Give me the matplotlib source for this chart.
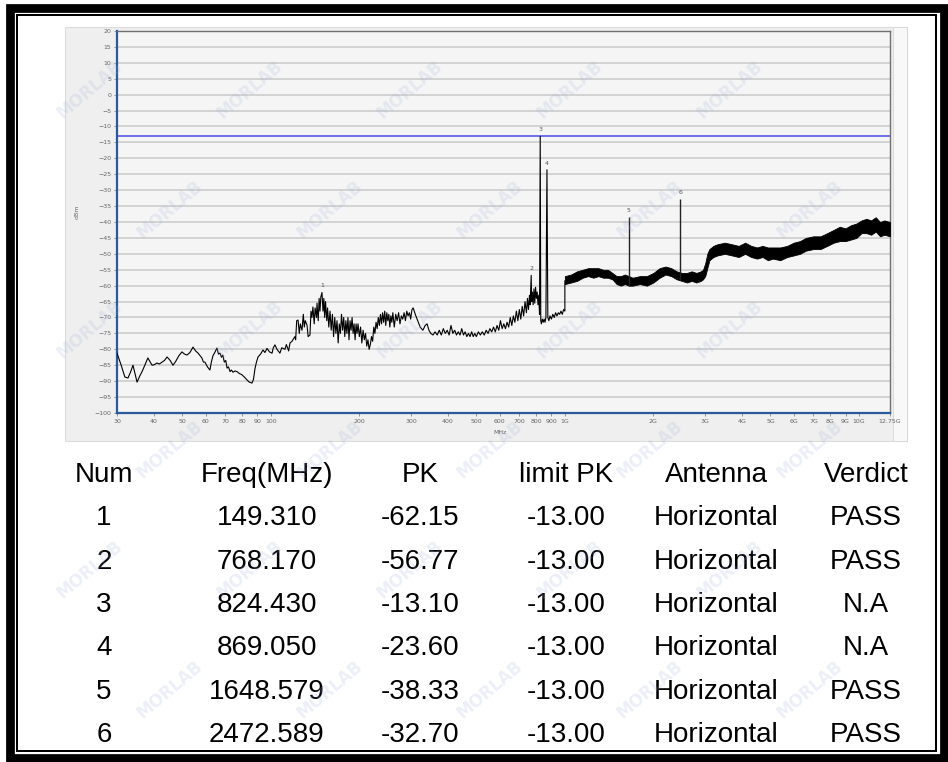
import numpy as np
import matplotlib.pyplot as plt
from matplotlib.patches import Rectangle

W, H = 948, 762

# spectrum trace below 1 GHz (MHz, dBm)
low_freq = [30, 31, 31.9, 32.7, 33.4, 34, 34.5, 35.1, 35.8, 36.5, 37.3, 38.2, 38.9, 39.5, 40.2, 41,
            41.8, 42.7, 43.5, 44.4, 45.5, 46.5, 47.5, 48.7, 49.9, 50.9, 51.9, 53.1, 54.4, 55.5, 56.6,
            57.5, 58.3, 59, 59.7, 60.9, 62.1, 62.8, 63.6, 64.5, 65.6, 66.4, 67.2, 68, 68.7, 69.5, 70.3,
            71, 71.8, 72.7, 73.5, 74.4, 75.5, 76.8, 78.2, 79.8, 81.5, 83, 84.5, 86.3, 87.3, 88.4, 89.4,
            90.5, 92.3, 94.1, 95.5, 97.1, 99, 101, 102, 103.3, 105, 107.4, 109, 111.7, 113, 115, 116.2,
            118, 120.8, 121.5, 122.5, 123.8, 125, 126, 127.7, 129, 130, 131, 132.8, 134, 135.9, 137,
            138, 139.1, 140.5, 141.5, 143, 143.6, 145, 146, 147, 148, 149.31, 150.5, 151.5, 152.5,
            153.5, 155, 156, 157.5, 159, 160.5, 162, 163.5, 165, 166.5, 168, 169.5, 171, 172.5, 174,
            175.5, 177, 178.5, 180, 181.5, 183, 184.5, 186, 187.5, 189, 190.5, 192, 193.5, 195, 196.5,
            198, 200, 202, 204, 206, 208, 210, 212, 214, 216, 218, 220, 222, 224, 226, 228, 230, 232,
            234, 236, 238, 240, 242, 244, 246, 248, 250, 252, 254, 256, 258, 260, 263, 266, 269, 272,
            275, 278, 281, 284, 287, 290, 293, 296, 299, 302, 305, 310, 316, 322, 329, 335, 340, 345,
            350, 356, 362, 368, 374, 380, 386, 392, 398, 404, 410, 416, 422, 428, 434, 440, 446, 452,
            458, 464, 470, 476, 482, 488, 494, 500, 508, 516, 524, 532, 540, 548, 556, 564, 572, 580,
            588, 596, 604, 612, 620, 628, 636, 644, 652, 660, 668, 676, 684, 692, 700, 708, 716, 724,
            732, 740, 746, 752, 758, 762, 765, 768.17, 771, 775, 780, 785, 790, 795, 800, 805, 810,
            815, 820, 824.43, 828, 832, 838, 844, 850, 856, 862, 869.05, 875, 882, 890, 900, 910, 920,
            930, 940, 950, 960, 970, 980, 990, 1000, 1000]
low_level = [-81.2, -85, -88.7, -89, -87, -85, -87.5, -90.3, -88.5, -87, -85, -82.7, -84, -85, -84.8,
             -84.3, -84.6, -84, -83.5, -82.4, -83.5, -85, -83.8, -82, -80.8, -81.5, -81.8, -81, -79.3,
             -80.5, -81.2, -82, -82.7, -84, -84, -85.5, -86.5, -84, -82, -81, -79.6, -81.5, -81.2,
             -82.5, -81.8, -84, -83.5, -85.9, -85.5, -87, -86.5, -87.2, -86.8, -87, -87.6, -88, -88.8,
             -89.6, -90.3, -90.6, -89.5, -86, -84, -82.4, -81.5, -80.2, -81, -79.7, -80.8, -81.2,
             -79.5, -78.6, -80, -81.2, -79.5, -80, -78.5, -80.5, -78, -77.5, -76, -77, -71, -70.8,
             -75, -72, -74, -69, -73, -71, -72.4, -76, -75.5, -68, -70, -66.7, -72, -67, -70, -65.5,
             -71, -64, -68, -63.5, -62.15, -68, -64, -70, -65, -71, -67, -73, -68, -74, -69, -76, -70,
             -75, -71, -78, -72, -75, -69, -74, -70, -76, -71, -75, -70, -77, -71, -74, -70, -75, -72,
             -77, -72, -75, -72, -76, -73, -78, -74, -77, -75, -79, -77, -80, -78.5, -76, -77.5, -73,
             -75, -71.5, -73.5, -70, -72.5, -69, -72, -68.5, -71.5, -68, -72.5, -68.5, -71, -69, -73,
             -69.5, -71.5, -68.5, -73, -69, -71, -68.5, -72, -69.5, -70.5, -68.5, -71, -68, -69.5,
             -68.5, -70.5, -67.5, -67, -69, -71, -73, -74, -72.5, -72, -74, -75, -75.5, -74.5, -75.5,
             -74, -75.5, -73.5, -75, -74, -75.5, -72.5, -75, -74, -75.5, -74.5, -75.5, -73.5, -75.5,
             -74.5, -76, -75, -76, -74.5, -76, -75, -76, -74.5, -75.5, -74.5, -75.5, -74, -75, -73.5,
             -74.5, -73, -74.5, -72.5, -74, -71, -73.5, -72, -73.5, -71.5, -73, -70, -72.5, -69.5,
             -71.5, -68, -71, -67.5, -70.5, -66.5, -69.5, -65, -68.5, -64, -67.5, -63, -66, -61,
             -56.77, -65, -62, -66, -61, -65.5, -60.5, -64, -62, -66, -63, -69, -13.1, -71, -72,
             -70.5, -71.5, -70.5, -71.5, -70, -23.6, -70, -71, -69.5, -70.5, -69, -70, -68.5, -69.5,
             -68.5, -69, -68, -69, -67.5, -68, -58.5]

# noise band above 1 GHz: lower and upper edges (MHz, dBm)
band_freq = [1000, 1050, 1100, 1150, 1200, 1250, 1300, 1350, 1400, 1450, 1500, 1550, 1600, 1650,
             1700, 1800, 1900, 2000, 2100, 2200, 2300, 2400, 2500, 2600, 2700, 2800, 2900, 2950,
             3000, 3050, 3100, 3200, 3300, 3500, 3700, 3900, 4100, 4300, 4500, 4700, 4900, 5100,
             5400, 5700, 6000, 6300, 6600, 7000, 7400, 7800, 8200, 8600, 9000, 9400, 9800, 10200,
             10600, 11000, 11400, 11800, 12200, 12750]
band_low = [-59.5, -59, -58.5, -57.5, -57, -57.5, -57, -57.5, -57.5, -58, -59.5, -60, -59.5, -60,
            -60, -59.5, -60, -59, -57.5, -56.5, -57, -58, -58.5, -59, -58.5, -59, -58.5, -58,
            -57, -54.5, -52, -51, -50.5, -50, -50.5, -51, -50, -51, -51.5, -51, -52, -51.5,
            -52, -51, -50.5, -50, -49, -48.5, -48.5, -47.5, -46.5, -46, -46, -45.5, -45, -43.5,
            -43.5, -44, -43, -44.5, -44, -44.5]
band_high = [-57, -56.5, -55.5, -55, -54.5, -54.5, -54.5, -55, -55, -56, -57, -57, -56.5, -57,
             -57.5, -57, -57, -56, -54.5, -54, -54.5, -55.5, -56, -56, -55.5, -56, -55.5, -55,
             -53, -50, -48.5, -47.5, -47, -46.5, -47, -47.5, -46.5, -47.5, -48, -47.5, -48, -48,
             -48, -47.5, -46.5, -46, -45, -44.5, -44.5, -43.5, -42.5, -41.5, -42, -41, -40.5, -39.5,
             -39, -39.5, -38.5, -40, -39.5, -40]

# marker table
marker_num = [1, 2, 3, 4, 5, 6]
marker_freq = [149.310, 768.170, 824.430, 869.050, 1648.579, 2472.589]
marker_pk = [-62.15, -56.77, -13.10, -23.60, -38.33, -32.70]
limit_pk = [-13.00] * 6
antenna = ["Horizontal"] * 6
verdict = ["PASS", "PASS", "N.A", "N.A", "PASS", "PASS"]

x_ticks = [30, 40, 50, 60, 70, 80, 90, 100, 200, 300, 400, 500, 600, 700, 800, 900,
           1000, 2000, 3000, 4000, 5000, 6000, 7000, 8000, 9000, 10000, 12750]
x_tick_labels = ["30", "40", "50", "60", "70", "80", "90", "100", "200", "300", "400", "500",
                 "600", "700", "800", "900", "1G", "2G", "3G", "4G", "5G", "6G", "7G", "8G",
                 "9G", "10G", "12.75G"]
limit_line = -13.0


def px_box(x0, y0, x1, y1):
    return [x0 / W, 1 - y1 / H, (x1 - x0) / W, (y1 - y0) / H]


fig = plt.figure(figsize=(W / 100, H / 100), dpi=100)
fig.patch.set_facecolor("white")

# grey screenshot panel behind the plot
b = px_box(65, 27, 907, 441)
fig.patches.append(Rectangle((b[0], b[1]), b[2], b[3], transform=fig.transFigure,
                             facecolor="#efefef", edgecolor="#dcdcdc", lw=0.8, zorder=-2))
b = px_box(893, 27, 907, 441)
fig.patches.append(Rectangle((b[0], b[1]), b[2], b[3], transform=fig.transFigure,
                             facecolor="#f8f8f8", edgecolor="#d6d6d6", lw=0.6, zorder=-1))

ax = fig.add_axes(px_box(117, 31, 890, 413))
ax.set_zorder(1)
ax.set_facecolor("#f5f5f5")
ax.set_xscale("log")
ax.set_xlim(30, 12750)
ax.set_ylim(-100, 20)
ax.set_yticks(np.arange(-100, 21, 5))
ax.set_xticks(x_ticks)
ax.set_xticklabels(x_tick_labels)
ax.set_xticks([], minor=True)
ax.tick_params(axis="both", labelsize=4.5, labelcolor="#666666", color="#888888",
               length=2, width=0.6, pad=2)
ax.yaxis.grid(True, color="#c9c9c9", lw=1.1)
ax.set_axisbelow(True)
for side in ["left", "bottom"]:
    ax.spines[side].set_color("#2a5a9a")
    ax.spines[side].set_linewidth(1.6)
for side in ["top", "right"]:
    ax.spines[side].set_color("#707070")
    ax.spines[side].set_linewidth(1.0)

ax.axhline(limit_line, color="#4a4ae6", lw=1.1, zorder=2)
ax.plot(low_freq, low_level, color="black", lw=0.8, zorder=3)
ax.fill_between(band_freq, band_low, band_high, color="black", lw=0.6, zorder=3)

# spikes above the noise band
for f, pk in zip(marker_freq, marker_pk):
    if f > 1000:
        base = np.interp(np.log10(f), np.log10(band_freq), band_low)
        ax.vlines(f, base, pk, color="#222222", lw=1.0, zorder=3)

for n, f, pk in zip(marker_num, marker_freq, marker_pk):
    ax.annotate(str(n), (f, pk), xytext=(0, 3), textcoords="offset points",
                ha="center", va="bottom", fontsize=4.5, color="#555555")

fig.text(77 / W, 1 - 212 / H, "dBm", rotation=90, fontsize=4.5, color="#666666",
         ha="center", va="center")
fig.text(500 / W, 1 - 433 / H, "MHz", fontsize=4.5, color="#666666", ha="center", va="center")

# result table
col_x = [104, 267, 420, 566, 716, 866]
headers = ["Num", "Freq(MHz)", "PK", "limit PK", "Antenna", "Verdict"]
row_y = [475, 518, 562, 605, 648, 692, 735]
tfont = dict(fontsize=20, family=["Liberation Sans", "DejaVu Sans"], color="black",
             ha="center", va="center")
for x, h in zip(col_x, headers):
    fig.text(x / W, 1 - row_y[0] / H, h, **tfont)
for i in range(len(marker_num)):
    cells = [str(marker_num[i]), f"{marker_freq[i]:.3f}", f"{marker_pk[i]:.2f}",
             f"{limit_pk[i]:.2f}", antenna[i], verdict[i]]
    for x, c in zip(col_x, cells):
        fig.text(x / W, 1 - row_y[i + 1] / H, c, **tfont)

# watermark
for j, wy in enumerate(range(90, 700, 120)):
    off = 0 if j % 2 == 0 else 80
    for wx in range(90 + off, 880, 160):
        fig.text(wx / W, 1 - wy / H, "MORLAB", rotation=40, fontsize=12, fontweight="bold",
                 color="#9fb0d8", alpha=0.2, ha="center", va="center", zorder=10)

# double black frame
for x0, y0, x1, y1, lw in [(9.5, 8, 943.5, 758, 6.3), (17, 15, 936, 751, 1.45)]:
    r = px_box(x0, y0, x1, y1)
    fig.patches.append(Rectangle((r[0], r[1]), r[2], r[3], transform=fig.transFigure,
                                 fill=False, edgecolor="black", lw=lw, zorder=20))

fig.savefig("out.png", dpi=100)
